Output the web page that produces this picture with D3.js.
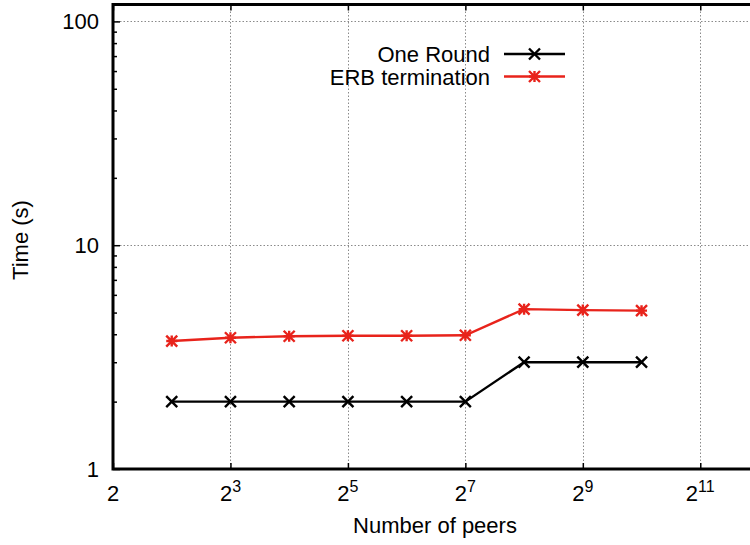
<!DOCTYPE html>
<html>
<head>
<meta charset="utf-8">
<script src="https://cdn.jsdelivr.net/npm/d3@7"></script>
<style>
  html, body { margin: 0; padding: 0; background: #fff; }
  svg { display: block; font-family: "Liberation Sans", Arial, Helvetica, sans-serif; }
</style>
</head>
<body>
<svg id="chart" width="750" height="545"></svg>
<script>
// Measurements: completion time vs. number of peers
const peers = [4, 8, 16, 32, 64, 128, 256, 512, 1024];
const oneRound = [2, 2, 2, 2, 2, 2, 3, 3, 3];
const erbTermination = [3.73, 3.86, 3.92, 3.94, 3.94, 3.96, 5.18, 5.13, 5.10];

const seriesNames = ["One Round", "ERB termination"];
const seriesColors = ["#000000", "#e8231b"];

const xTickExponents = [1, 3, 5, 7, 9, 11];
const yTickValues = [1, 10, 100];
const yMinorValues = [2, 3, 4, 5, 6, 7, 8, 9, 20, 30, 40, 50, 60, 70, 80, 90];

const xAxisTitle = "Number of peers";
const yAxisTitle = "Time (s)";

const svg = d3.select("#chart");
const plotLeft = 113, plotRight = 759, plotTop = 4.5, plotBottom = 469;

const x = d3.scaleLog().base(2).domain([2, 4096]).range([plotLeft, plotRight]);
const y = d3.scaleLog().domain([1, 119]).range([plotBottom, plotTop]);

const fontSize = 22;

// Grid
const grid = svg.append("g").attr("stroke", "#8a8a8a").attr("stroke-width", 1)
  .attr("stroke-dasharray", "1.5,2").attr("fill", "none");
xTickExponents.forEach(e => {
  const px = Math.round(x(Math.pow(2, e))) + 0.5;
  grid.append("line").attr("x1", px).attr("x2", px).attr("y1", plotTop).attr("y2", plotBottom);
});
yTickValues.forEach(v => {
  const py = Math.round(y(v)) + 0.5;
  grid.append("line").attr("x1", plotLeft).attr("x2", plotRight).attr("y1", py).attr("y2", py);
});

// Axes with inward ticks (mirrored on the opposite side)
const xTicks = xTickExponents.map(e => Math.pow(2, e));
svg.append("g").attr("transform", `translate(0,${plotBottom})`)
  .call(d3.axisBottom(x).tickValues(xTicks).tickSize(-6).tickFormat(""));
svg.append("g").attr("transform", `translate(0,${plotTop})`)
  .call(d3.axisTop(x).tickValues(xTicks).tickSize(-6).tickFormat(""));

svg.append("g").attr("transform", `translate(${plotLeft},0)`)
  .call(d3.axisLeft(y).tickValues(yTickValues).tickSize(-7).tickFormat(""));
svg.append("g").attr("transform", `translate(${plotLeft},0)`)
  .call(d3.axisLeft(y).tickValues(yMinorValues).tickSize(-4).tickFormat(""));
svg.append("g").attr("transform", `translate(${plotRight},0)`)
  .call(d3.axisRight(y).tickValues(yTickValues).tickSize(-7).tickFormat(""));

svg.selectAll(".domain").remove();
svg.selectAll(".tick line").attr("stroke", "#000").attr("stroke-width", 1.5);

// Frame
svg.append("rect").attr("x", plotLeft).attr("y", plotTop)
  .attr("width", plotRight - plotLeft).attr("height", plotBottom - plotTop)
  .attr("fill", "none").attr("stroke", "#000").attr("stroke-width", 3);

// Tick labels
yTickValues.forEach(v => {
  svg.append("text").attr("x", plotLeft - 14).attr("y", y(v) + 8)
    .attr("text-anchor", "end").attr("font-size", fontSize).attr("fill", "#000")
    .text(String(v));
});
xTickExponents.forEach(e => {
  const t = svg.append("text").attr("x", x(Math.pow(2, e))).attr("y", 501)
    .attr("text-anchor", "middle").attr("font-size", fontSize).attr("fill", "#000");
  t.append("tspan").text("2");
  if (e !== 1) {
    t.append("tspan").attr("font-size", 16).attr("dy", -9).text(String(e));
  }
});

// Axis titles
svg.append("text").attr("x", 435).attr("y", 533).attr("text-anchor", "middle")
  .attr("font-size", fontSize).attr("fill", "#000").text(xAxisTitle);
svg.append("text").attr("transform", "translate(28,240) rotate(-90)")
  .attr("text-anchor", "middle").attr("font-size", fontSize).attr("fill", "#000").text(yAxisTitle);

// Markers
function crossPath(cx, cy, r) {
  return `M${cx - r},${cy - r}L${cx + r},${cy + r}M${cx - r},${cy + r}L${cx + r},${cy - r}`;
}
function starPath(cx, cy, r) {
  return crossPath(cx, cy, r) + `M${cx - r},${cy}L${cx + r},${cy}M${cx},${cy - r}L${cx},${cy + r}`;
}
const markers = [crossPath, starPath];

const seriesData = [oneRound, erbTermination];
const line = d3.line().x(d => x(d[0])).y(d => y(d[1]));

seriesData.forEach((vals, i) => {
  const pts = peers.map((p, j) => [p, vals[j]]);
  const g = svg.append("g");
  g.append("path").attr("d", line(pts)).attr("fill", "none")
    .attr("stroke", seriesColors[i]).attr("stroke-width", 2.4);
  g.selectAll("path.m").data(pts).enter().append("path").attr("class", "m")
    .attr("d", d => markers[i](x(d[0]), y(d[1]), 5.5))
    .attr("stroke", seriesColors[i]).attr("stroke-width", 2.4).attr("fill", "none");
});

// Legend
seriesNames.forEach((name, i) => {
  const cy = 54 + i * 22.5;
  const g = svg.append("g");
  g.append("text").attr("x", 490).attr("y", cy + 8).attr("text-anchor", "end")
    .attr("font-size", fontSize).attr("fill", "#000").text(name);
  g.append("line").attr("x1", 504).attr("x2", 565).attr("y1", cy).attr("y2", cy)
    .attr("stroke", seriesColors[i]).attr("stroke-width", 2.4);
  g.append("path").attr("d", markers[i](534.5, cy, 5.5))
    .attr("stroke", seriesColors[i]).attr("stroke-width", 2.4).attr("fill", "none");
});
</script>
</body>
</html>
